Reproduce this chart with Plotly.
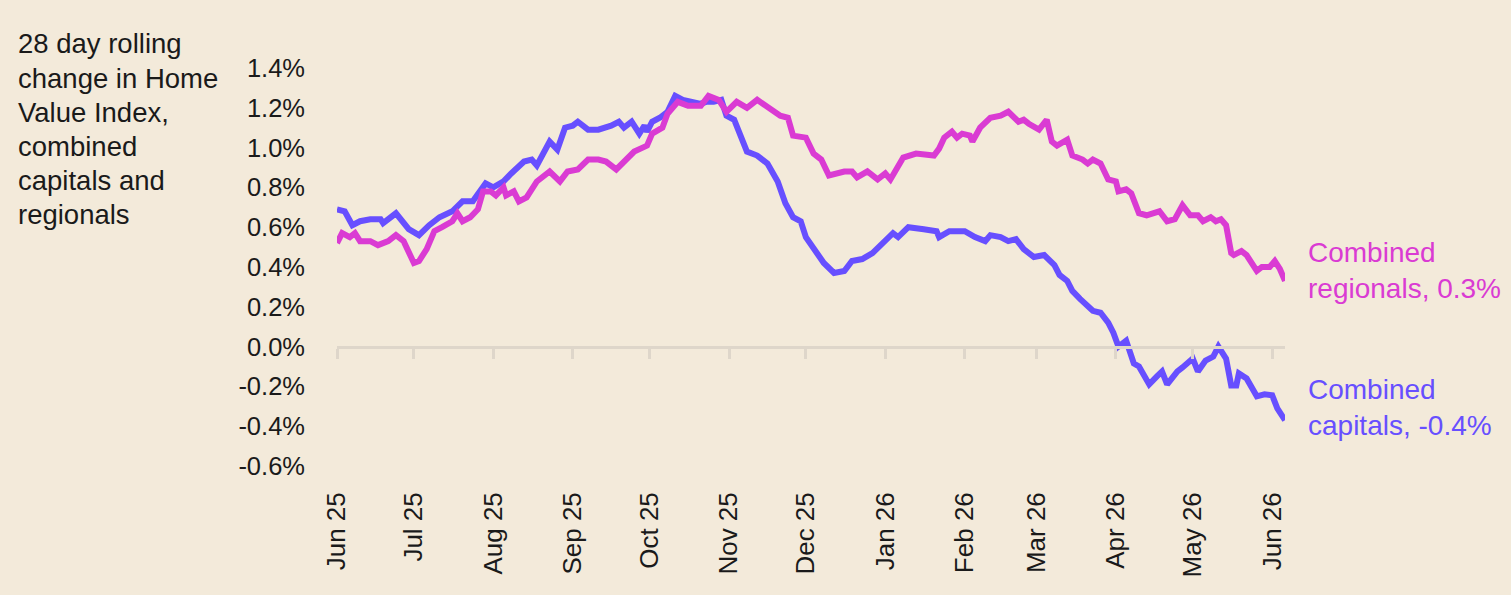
import plotly.graph_objects as go

# ---- data ----
cap_dates = [
    "2025-06-01", "2025-06-04", "2025-06-07", "2025-06-10", "2025-06-14", "2025-06-18", "2025-06-19",
    "2025-06-24", "2025-06-29", "2025-07-03", "2025-07-07", "2025-07-11", "2025-07-16", "2025-07-20",
    "2025-07-24", "2025-07-29", "2025-08-01", "2025-08-05", "2025-08-08", "2025-08-13", "2025-08-16",
    "2025-08-18", "2025-08-23", "2025-08-26", "2025-08-29", "2025-09-01", "2025-09-03", "2025-09-07",
    "2025-09-11", "2025-09-16", "2025-09-19", "2025-09-21", "2025-09-24", "2025-09-27", "2025-09-29",
    "2025-09-30", "2025-10-02", "2025-10-05", "2025-10-08", "2025-10-11", "2025-10-14", "2025-10-21",
    "2025-10-23", "2025-10-26", "2025-10-29", "2025-10-31", "2025-11-03", "2025-11-05", "2025-11-08",
    "2025-11-12", "2025-11-16", "2025-11-20", "2025-11-23", "2025-11-26", "2025-11-29", "2025-12-01",
    "2025-12-05", "2025-12-08", "2025-12-12", "2025-12-16", "2025-12-19", "2025-12-23", "2025-12-27",
    "2026-01-01", "2026-01-04", "2026-01-06", "2026-01-10", "2026-01-16", "2026-01-21", "2026-01-22",
    "2026-01-26", "2026-02-01", "2026-02-05", "2026-02-09", "2026-02-11", "2026-02-15", "2026-02-18",
    "2026-02-21", "2026-02-24", "2026-02-28", "2026-03-04", "2026-03-08", "2026-03-10", "2026-03-13",
    "2026-03-15", "2026-03-18", "2026-03-23", "2026-03-26", "2026-03-29", "2026-03-31", "2026-04-02",
    "2026-04-05", "2026-04-08", "2026-04-10", "2026-04-12", "2026-04-14", "2026-04-17", "2026-04-19",
    "2026-04-21", "2026-04-25", "2026-04-27", "2026-05-01", "2026-05-03", "2026-05-06", "2026-05-09",
    "2026-05-11", "2026-05-14", "2026-05-16", "2026-05-18", "2026-05-19", "2026-05-22", "2026-05-26",
    "2026-05-29", "2026-06-01", "2026-06-03", "2026-06-06",
]
cap_values = [
    0.69, 0.68, 0.61, 0.63, 0.64, 0.64, 0.62,
    0.67, 0.59, 0.56, 0.61, 0.65, 0.68, 0.73,
    0.73, 0.82, 0.80, 0.83, 0.87, 0.93, 0.94,
    0.91, 1.03, 0.99, 1.10, 1.11, 1.13, 1.09,
    1.09, 1.11, 1.13, 1.10, 1.13, 1.07, 1.11,
    1.08, 1.13, 1.15, 1.18, 1.26, 1.24, 1.22,
    1.23, 1.23, 1.24, 1.16, 1.14, 1.08, 0.98,
    0.96, 0.92, 0.83, 0.72, 0.65, 0.63, 0.55,
    0.48, 0.42, 0.37, 0.38, 0.43, 0.44, 0.47,
    0.53, 0.57, 0.55, 0.60, 0.59, 0.58, 0.55,
    0.58, 0.58, 0.55, 0.53, 0.56, 0.55, 0.53,
    0.54, 0.49, 0.45, 0.46, 0.41, 0.36, 0.33,
    0.28, 0.24, 0.18, 0.17, 0.12, 0.07, 0.00,
    0.03, -0.085, -0.10, -0.145, -0.19, -0.15, -0.125,
    -0.19, -0.125, -0.105, -0.06, -0.125, -0.07, -0.05,
    0.00, -0.06, -0.195, -0.195, -0.135, -0.16, -0.25,
    -0.24, -0.245, -0.31, -0.37,
]

reg_dates = [
    "2025-06-01", "2025-06-03", "2025-06-06", "2025-06-08", "2025-06-10", "2025-06-14", "2025-06-17",
    "2025-06-21", "2025-06-24", "2025-06-27", "2025-07-01", "2025-07-03", "2025-07-06", "2025-07-09",
    "2025-07-12", "2025-07-16", "2025-07-18", "2025-07-20", "2025-07-23", "2025-07-26", "2025-07-28",
    "2025-07-31", "2025-08-02", "2025-08-05", "2025-08-06", "2025-08-09", "2025-08-11", "2025-08-14",
    "2025-08-18", "2025-08-23", "2025-08-27", "2025-08-30", "2025-09-03", "2025-09-07", "2025-09-11",
    "2025-09-14", "2025-09-18", "2025-09-21", "2025-09-25", "2025-09-30", "2025-10-02", "2025-10-06",
    "2025-10-08", "2025-10-12", "2025-10-16", "2025-10-21", "2025-10-24", "2025-10-28", "2025-10-31",
    "2025-11-04", "2025-11-08", "2025-11-12", "2025-11-17", "2025-11-21", "2025-11-24", "2025-11-26",
    "2025-12-01", "2025-12-04", "2025-12-07", "2025-12-10", "2025-12-16", "2025-12-19", "2025-12-21",
    "2025-12-25", "2025-12-29", "2026-01-01", "2026-01-03", "2026-01-08", "2026-01-13", "2026-01-20",
    "2026-01-22", "2026-01-24", "2026-01-27", "2026-01-29", "2026-01-31", "2026-02-03", "2026-02-04",
    "2026-02-07", "2026-02-11", "2026-02-15", "2026-02-18", "2026-02-22", "2026-02-24", "2026-02-26",
    "2026-03-02", "2026-03-05", "2026-03-07", "2026-03-09", "2026-03-13", "2026-03-15", "2026-03-19",
    "2026-03-21", "2026-03-23", "2026-03-26", "2026-03-29", "2026-04-01", "2026-04-02", "2026-04-05",
    "2026-04-07", "2026-04-10", "2026-04-13", "2026-04-18", "2026-04-21", "2026-04-24", "2026-04-27",
    "2026-04-30", "2026-05-03", "2026-05-05", "2026-05-08", "2026-05-10", "2026-05-12", "2026-05-14",
    "2026-05-16", "2026-05-17", "2026-05-20", "2026-05-22", "2026-05-26", "2026-05-28", "2026-05-31",
    "2026-06-02", "2026-06-04", "2026-06-06",
]
reg_values = [
    0.52, 0.57, 0.55, 0.57, 0.53, 0.53, 0.51,
    0.53, 0.56, 0.53, 0.42, 0.43, 0.49, 0.58,
    0.60, 0.63, 0.67, 0.63, 0.65, 0.69, 0.78,
    0.78, 0.76, 0.80, 0.76, 0.78, 0.73, 0.75,
    0.83, 0.88, 0.83, 0.88, 0.89, 0.94, 0.94,
    0.93, 0.89, 0.93, 0.98, 1.01, 1.07, 1.10,
    1.17, 1.23, 1.21, 1.21, 1.26, 1.24, 1.18,
    1.23, 1.20, 1.24, 1.20, 1.16, 1.15, 1.06,
    1.05, 0.97, 0.94, 0.86, 0.88, 0.88, 0.85,
    0.88, 0.84, 0.87, 0.84, 0.95, 0.97, 0.96,
    0.995, 1.05, 1.08, 1.05, 1.07, 1.06, 1.03,
    1.10, 1.15, 1.16, 1.18, 1.13, 1.14, 1.12,
    1.09, 1.14, 1.03, 1.01, 1.04, 0.96, 0.94,
    0.92, 0.94, 0.92, 0.84, 0.83, 0.78, 0.79,
    0.77, 0.67, 0.66, 0.68, 0.63, 0.64, 0.71,
    0.66, 0.66, 0.63, 0.65, 0.63, 0.64, 0.61,
    0.47, 0.46, 0.48, 0.46, 0.38, 0.40, 0.40,
    0.43, 0.39, 0.33,
]

y_ticks = [1.4, 1.2, 1.0, 0.8, 0.6, 0.4, 0.2, 0.0, -0.2, -0.4, -0.6]
y_tick_labels = [f"{v:.1f}%" for v in y_ticks]

x_tick_vals = ["2025-06-01", "2025-07-01", "2025-08-01", "2025-09-01", "2025-10-01",
               "2025-11-01", "2025-12-01", "2026-01-01", "2026-02-01", "2026-03-01",
               "2026-04-01", "2026-05-01", "2026-06-01"]
x_tick_text = ["Jun 25", "Jul 25", "Aug 25", "Sep 25", "Oct 25", "Nov 25", "Dec 25",
               "Jan 26", "Feb 26", "Mar 26", "Apr 26", "May 26", "Jun 26"]

title_lines = ["28 day rolling", "change in Home", "Value Index,", "combined",
               "capitals and", "regionals"]
reg_label = "Combined<br>regionals, 0.3%"
cap_label = "Combined<br>capitals, -0.4%"

# ---- styles ----
BG = "#F3EADA"
CAP_COLOR = "#674FFF"
REG_COLOR = "#DA3BD3"
GRID_COLOR = "#DED6CA"
TEXT = "#1A1A1A"
FONT = "Liberation Sans, Arial, sans-serif"

W, H = 1511, 595
M_L, M_R, M_T, M_B = 337, 226, 68, 129
PLOT_W, PLOT_H = W - M_L - M_R, H - M_T - M_B

x_range = [cap_dates[0], cap_dates[-1]]
y_range = [-0.6, 1.4]

fig = go.Figure()

# invisible helper so the zero-line axis is created
fig.add_trace(go.Scatter(x=x_range, y=[0, 0], xaxis="x2", mode="lines",
                         line=dict(width=0, color="rgba(0,0,0,0)"), hoverinfo="skip",
                         showlegend=False))

fig.add_trace(go.Scatter(x=cap_dates, y=cap_values, mode="lines", name="Combined capitals",
                         line=dict(color=CAP_COLOR, width=6), showlegend=False))
fig.add_trace(go.Scatter(x=reg_dates, y=reg_values, mode="lines", name="Combined regionals",
                         line=dict(color=REG_COLOR, width=6), showlegend=False))

zero_pos = (0 - y_range[0]) / (y_range[1] - y_range[0])

annotations = []
# title block, one line per annotation (line centres 34 px apart, first at y=44 px)
for i, line in enumerate(title_lines):
    yc = 44 + 34 * i
    annotations.append(dict(
        text=line, xref="paper", yref="paper",
        x=(16 - M_L) / PLOT_W, y=(H - M_B - yc) / PLOT_H,
        xanchor="left", yanchor="middle", align="left", showarrow=False,
        font=dict(size=27.5, color=TEXT, family=FONT)))

annotations += [
    dict(text=reg_label, xref="paper", yref="y", x=1, y=reg_values[-1],
         xanchor="left", yanchor="middle", align="left", xshift=21, yshift=10,
         showarrow=False, font=dict(size=28, color=REG_COLOR, family=FONT)),
    dict(text=cap_label, xref="paper", yref="y", x=1, y=cap_values[-1],
         xanchor="left", yanchor="middle", align="left", xshift=21, yshift=13,
         showarrow=False, font=dict(size=28, color=CAP_COLOR, family=FONT)),
]

fig.update_layout(
    width=W, height=H,
    paper_bgcolor=BG, plot_bgcolor=BG,
    margin=dict(l=M_L, r=M_R, t=M_T, b=M_B),
    font=dict(family=FONT, color=TEXT),
    xaxis=dict(
        type="date", range=x_range, showgrid=False, zeroline=False, showline=False,
        tickmode="array", tickvals=x_tick_vals, ticktext=x_tick_text,
        tickangle=-90, ticks="", ticklabelstandoff=20,
        tickfont=dict(size=26, color=TEXT, family=FONT),
    ),
    xaxis2=dict(
        type="date", range=x_range, overlaying="x", anchor="free", position=zero_pos,
        side="bottom", showgrid=False, zeroline=False, showline=True,
        linecolor=GRID_COLOR, linewidth=3,
        tickmode="array", tickvals=x_tick_vals,
        ticks="outside", ticklen=10, tickwidth=3, tickcolor=GRID_COLOR,
        showticklabels=False,
    ),
    yaxis=dict(
        range=y_range, tickmode="array", tickvals=y_ticks, ticktext=y_tick_labels,
        showgrid=False, zeroline=False, showline=False, ticks="",
        ticklabelstandoff=31, tickfont=dict(size=25.5, color=TEXT, family=FONT),
    ),
    annotations=annotations,
)

fig.write_html("out.html")
